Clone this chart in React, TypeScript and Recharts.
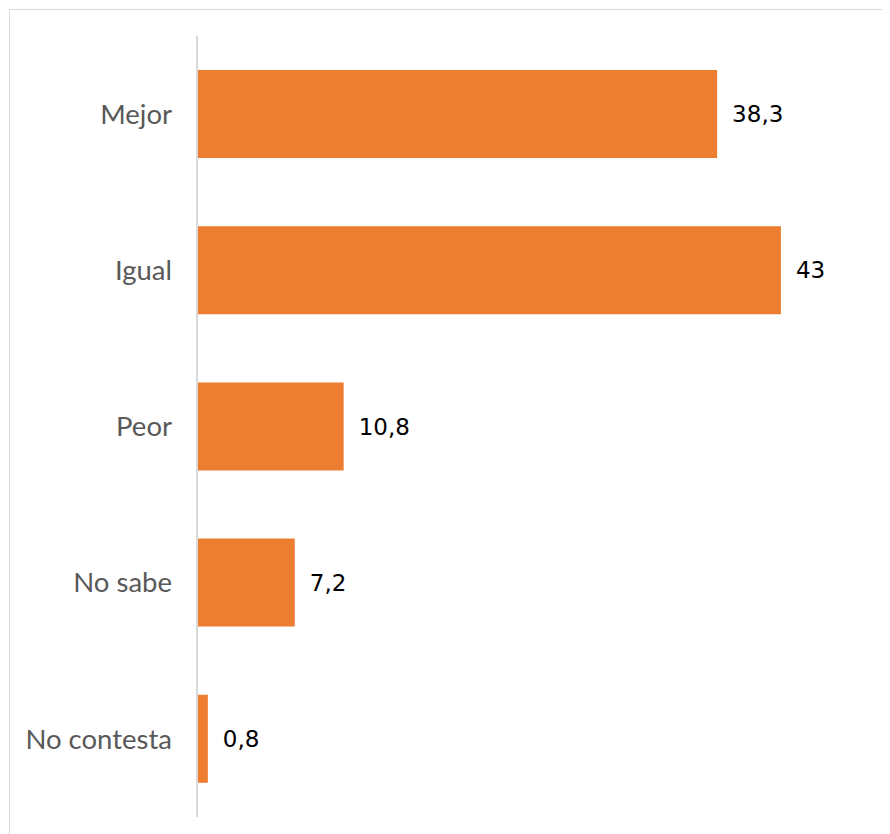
import { BarChart, Bar, XAxis, YAxis, LabelList } from 'recharts';

const categories = ['Mejor', 'Igual', 'Peor', 'No sabe', 'No contesta'];
const values = [38.3, 43, 10.8, 7.2, 0.8];

const data = categories.map((name, i) => ({ name, value: values[i] }));

const fmt = (v: any) => String(v).replace('.', ',');

export default function App() {
  return (
    <div style={{ position: 'relative', width: 882, height: 826, overflow: 'hidden' }}>
      <div
        style={{
          position: 'absolute',
          left: 1,
          top: 1,
          width: 950,
          height: 950,
          border: '1px solid #d9d9d9',
          background: '#fff',
        }}
      />
      <div style={{ position: 'absolute', left: 0, top: 0 }}>
        <BarChart
          width={882}
          height={826}
          data={data}
          layout="vertical"
          margin={{ top: 28, right: 14, bottom: 17, left: 0 }}
        >
          <XAxis type="number" domain={[0, 50]} hide />
          <YAxis
            type="category"
            dataKey="name"
            width={189}
            axisLine={{ stroke: '#d9d9d9', strokeWidth: 2 }}
            tickLine={false}
            tickSize={0}
            tickMargin={25}
            tick={{ fill: '#595959', fontSize: 27.5, fontFamily: 'Lato' }}
          />
          <Bar dataKey="value" fill="#ED7D31" barSize={88} isAnimationActive={false}>
            <LabelList
              dataKey="value"
              position="right"
              offset={15}
              formatter={fmt}
              style={{ fill: '#000', fontSize: 23, fontFamily: 'DejaVu Sans' }}
            />
          </Bar>
        </BarChart>
      </div>
    </div>
  );
}
